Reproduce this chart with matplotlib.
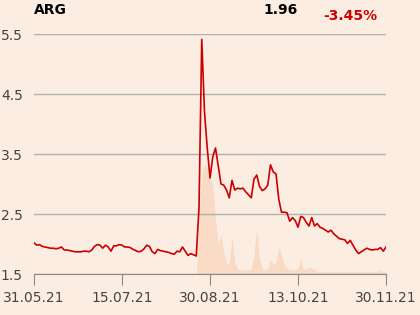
import matplotlib
matplotlib.use("Agg")
import matplotlib.pyplot as plt

BG = "#FBEDE1"
RED = "#CC0000"
FILL = "#F8DAC5"
GRID = "#B0B0B0"

ticker = "ARG"
last_price = "1.96"
change = "-3.45%"
tick_labels = ["31.05.21", "15.07.21", "30.08.21", "13.10.21", "30.11.21"]
y_ticks = [1.5, 2.5, 3.5, 4.5, 5.5]

# daily close, one value per trading day
price = [
    2.02, 1.98, 1.99, 1.96, 1.95, 1.94, 1.93, 1.93, 1.92, 1.93,
    1.95, 1.90, 1.90, 1.89, 1.88, 1.87, 1.87, 1.87, 1.88, 1.88,
    1.87, 1.90, 1.96, 1.99, 1.98, 1.93, 1.98, 1.95, 1.88, 1.97,
    1.97, 1.99, 1.98, 1.95, 1.95, 1.94, 1.91, 1.89, 1.87, 1.88,
    1.92, 1.98, 1.96, 1.87, 1.84, 1.91, 1.89, 1.88, 1.87, 1.86,
    1.84, 1.83, 1.88, 1.87, 1.95, 1.88, 1.81, 1.84, 1.82, 1.80,
    2.60, 5.41, 4.20, 3.60, 3.10, 3.45, 3.60, 3.30, 3.00, 2.98,
    2.90, 2.77, 3.06, 2.90, 2.93, 2.92, 2.93, 2.87, 2.82, 2.77,
    3.08, 3.15, 2.96, 2.89, 2.92, 2.98, 3.32, 3.20, 3.17, 2.75,
    2.53, 2.53, 2.52, 2.38, 2.44, 2.39, 2.28, 2.46, 2.44, 2.36,
    2.30, 2.44, 2.30, 2.34, 2.28, 2.26, 2.23, 2.20, 2.23, 2.17,
    2.13, 2.09, 2.08, 2.07, 2.01, 2.06, 1.98, 1.90, 1.84, 1.87,
    1.90, 1.93, 1.91, 1.90, 1.91, 1.91, 1.94, 1.88, 1.95,
]

# traded volume, relative (100 = full chart height)
volume = [
    0.3, 0.3, 0.3, 0.3, 0.3, 0.3, 0.3, 0.3, 0.3, 0.3,
    0.3, 0.3, 0.3, 0.3, 0.3, 0.3, 0.3, 0.3, 0.3, 0.3,
    0.3, 0.3, 0.3, 0.4, 0.3, 0.3, 0.3, 0.3, 0.3, 0.3,
    0.3, 0.3, 0.3, 0.3, 0.3, 0.3, 0.3, 0.3, 0.3, 0.3,
    0.3, 0.3, 0.4, 0.3, 0.3, 0.3, 0.3, 0.3, 0.3, 0.3,
    0.3, 0.3, 0.3, 0.3, 0.3, 0.3, 0.3, 0.3, 0.3, 0.0,
    20.0, 42.0, 46.0, 44.0, 40.0, 37.0, 23.0, 12.5, 16.0, 9.0,
    4.5, 4.0, 15.5, 5.0, 2.0, 1.7, 1.7, 1.7, 1.7, 2.0,
    8.0, 19.0, 6.0, 2.0, 1.7, 2.5, 6.0, 4.0, 5.0, 11.0,
    8.0, 3.5, 2.5, 1.7, 1.7, 1.7, 2.5, 6.0, 2.0, 2.0,
    3.0, 2.5, 2.0, 1.0, 1.0, 1.0, 1.0, 1.0, 1.0, 1.0,
    1.0, 1.0, 1.0, 1.0, 1.0, 1.0, 1.0, 1.0, 1.0, 1.0,
    1.0, 1.0, 1.0, 1.0, 1.0, 1.0, 1.5, 1.0, 1.0,
]

x = list(range(len(price)))
n = len(price) - 1
tick_pos = [n * k / (len(tick_labels) - 1) for k in range(len(tick_labels))]

fig = plt.figure(figsize=(4.2, 3.15), dpi=100, facecolor=BG)
ax = fig.add_axes([34 / 420, 1 - 274 / 315, 352 / 420, 240 / 315])
ax2 = ax.twinx()

ax2.fill_between(x, 0, volume, color=FILL, linewidth=0)
ax2.set_ylim(0, 100)
ax2.axis("off")
ax2.set_facecolor(BG)

ax.set_zorder(ax2.get_zorder() + 1)
ax.patch.set_visible(False)
ax.plot(x, price, color=RED, linewidth=1.2)

ax.set_xlim(0, n)
ax.set_ylim(1.5, 5.5)
ax.set_yticks(y_ticks)
ax.set_yticklabels([f"{v:.1f}" for v in y_ticks])
ax.set_xticks(tick_pos)
ax.set_xticklabels(tick_labels)
ax.grid(axis="y", color=GRID, linewidth=1)
for s in ["top", "right", "left"]:
    ax.spines[s].set_visible(False)
ax.spines["bottom"].set_color("#888888")
ax.tick_params(axis="y", length=0, pad=8, labelsize=10, labelcolor="#444444")
ax.tick_params(axis="x", length=8, color="#888888", pad=4, labelsize=10, labelcolor="#444444")

fig.text(34 / 420, 1 - 10 / 315, ticker, fontsize=10, fontweight="bold", va="center", ha="left")
fig.text(298 / 420, 1 - 10 / 315, last_price, fontsize=10, fontweight="bold", va="center", ha="right")
fig.text(377 / 420, 1 - 16 / 315, change, fontsize=10, fontweight="bold", va="center", ha="right", color=RED)

fig.savefig("out.png", dpi=100, facecolor=BG)
